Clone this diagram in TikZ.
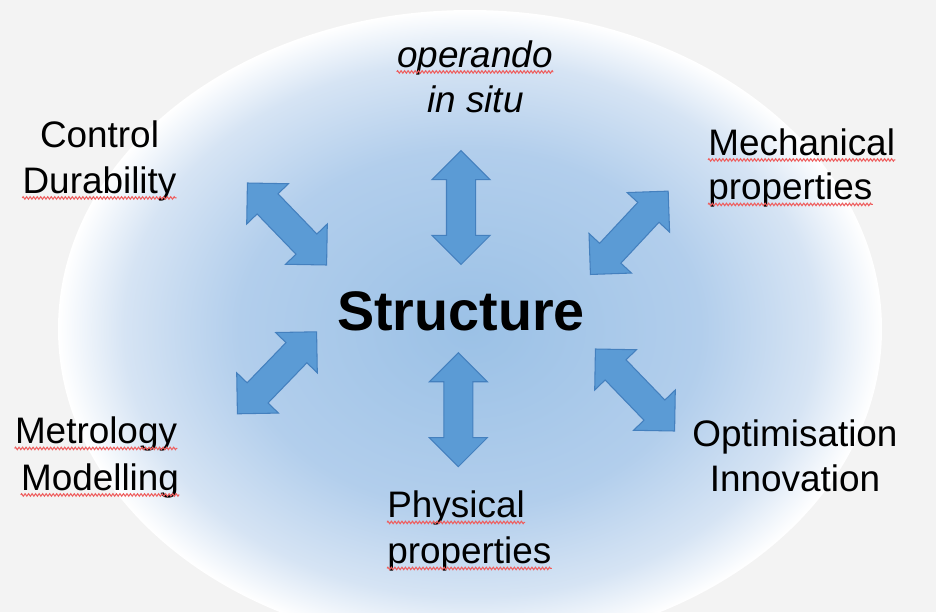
\documentclass[tikz,border=0pt]{standalone}
\usepackage{fontspec}
\setmainfont{Liberation Sans}
\usepackage{tikz}
\usetikzlibrary{shapes.arrows,decorations.pathmorphing}

\definecolor{bggray}{RGB}{243,243,243}
\definecolor{glowin}{RGB}{155,193,230}
\definecolor{glowmid}{RGB}{178,206,236}
\definecolor{glowout}{RGB}{214,228,244}
\definecolor{arrfill}{RGB}{91,155,213}
\definecolor{arrline}{RGB}{68,128,190}
\definecolor{squigred}{RGB}{238,95,95}

\pgfdeclareradialshading{glow}{\pgfpoint{0bp}{0bp}}{color(0bp)=(glowin); color(14bp)=(glowmid); color(21bp)=(glowout); color(25bp)=(white); color(50bp)=(white)}

\begin{document}
\begin{tikzpicture}[x=0.02cm,y=-0.02cm,
  lbl/.style={font=\fontsize{21}{25}\selectfont, inner sep=0pt, anchor=base},
  dblarrow/.style={double arrow, double arrow head extend=0.29cm, minimum height=2.28cm,
    inner sep=0.28cm, fill=arrfill, draw=arrline, line width=0.6pt},
  squig/.style={draw=squigred, line width=0.6pt, decorate,
    decoration={zigzag, segment length=2pt, amplitude=0.7pt}}]

% Background
\fill[bggray] (0,0) rectangle (936,612);
\useasboundingbox (0,0) rectangle (936,612);

% Glowing ellipse
\begin{scope}
\clip (0,0) rectangle (936,612);
\shade[shading=glow] (470,329) ellipse [x radius=412, y radius=319];
\end{scope}

% Centre word
\node[lbl, font=\bfseries\fontsize{31.7}{38}\selectfont] (struct) at (461,330) {Structure};

% Labels round the centre
\node[lbl] (ctrl) at (99.5,147) {Control};
\node[lbl] (dura) at (99.5,193) {Durability};
\node[lbl, font=\itshape\fontsize{21}{25}\selectfont] (oper) at (475,67) {operando};
\node[lbl, font=\itshape\fontsize{21}{25}\selectfont] (insitu) at (475.5,112) {in situ};
\node[lbl, anchor=base west] (mech) at (708,155) {Mechanical};
\node[lbl, anchor=base west] (mprop) at (708,199.5) {properties};
\node[lbl] (metr) at (96,443.5) {Metrology};
\node[lbl] (mode) at (100,490) {Modelling};
\node[lbl, anchor=base west] (phys) at (387,517.5) {Physical};
\node[lbl, anchor=base west] (pprop) at (387,563.5) {properties};
\node[lbl] (optim) at (795,446) {Optimisation};
\node[lbl] (innov) at (795,491) {Innovation};

% Double arrows
\node[dblarrow, rotate=-46] (arrUL) at (287,224) {};
\node[dblarrow, rotate=90] (arrU) at (461,207.5) {};
\node[dblarrow, rotate=47] (arrUR) at (629.3,232.8) {};
\node[dblarrow, rotate=46] (arrLL) at (277,372.8) {};
\node[dblarrow, rotate=90] (arrD) at (458.3,409.7) {};
\node[dblarrow, rotate=-46] (arrLR) at (635,390) {};

% Spell-check squiggles
\foreach \w in {dura,oper,mech,mprop,metr,mode,phys,pprop}
  \draw[squig] ([yshift=-2.8pt]\w.base west) -- ([yshift=-2.8pt]\w.base east);

\end{tikzpicture}
\end{document}
